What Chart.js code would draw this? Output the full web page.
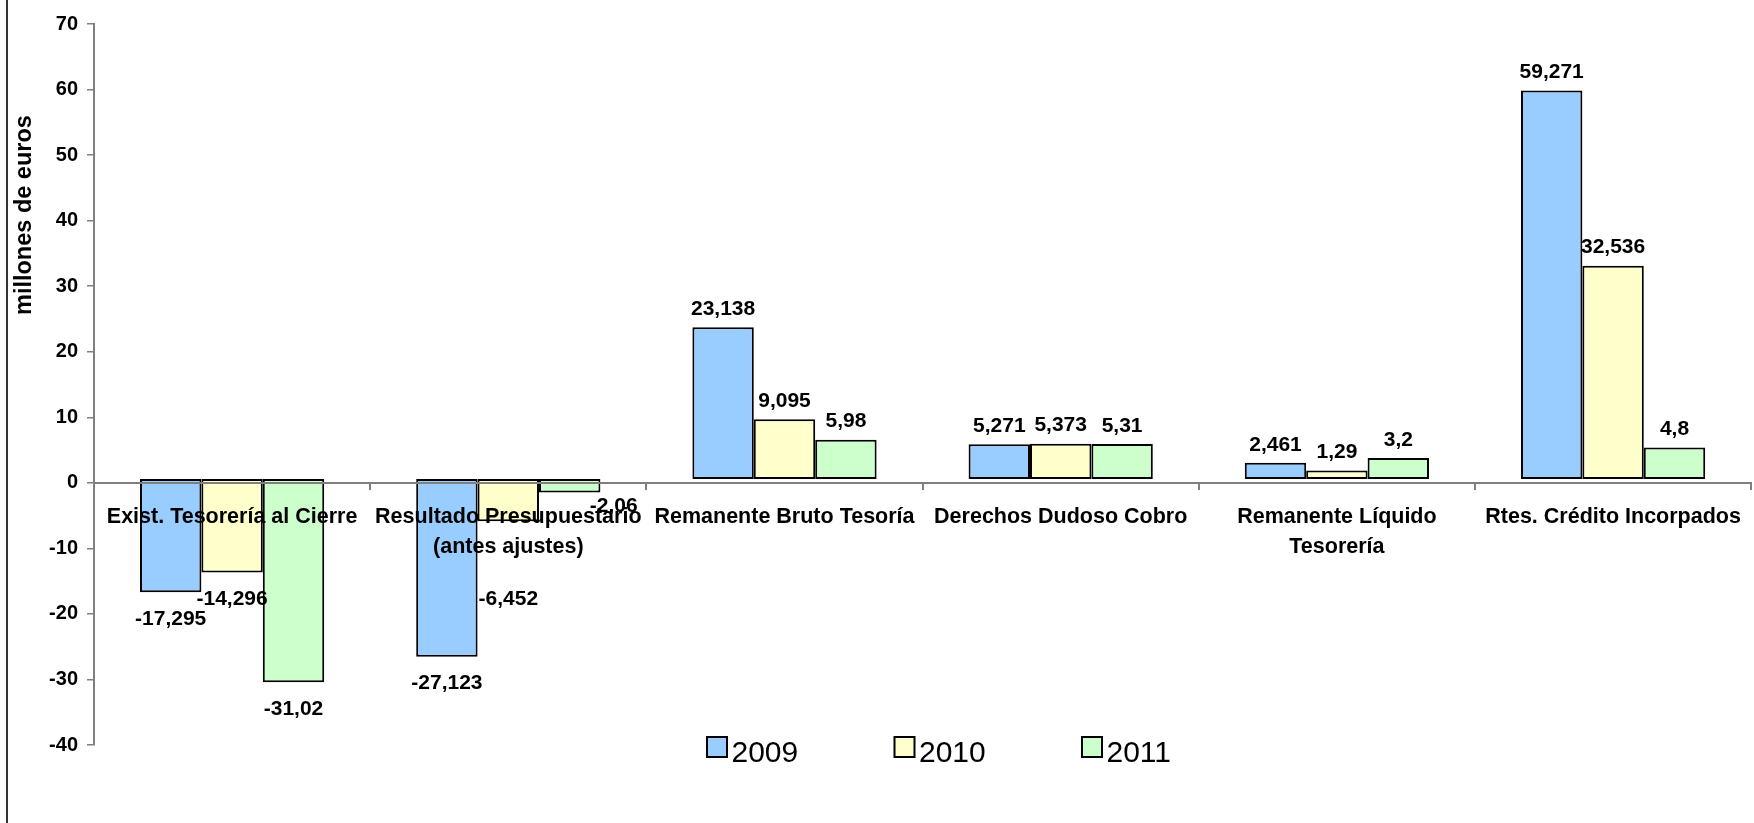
<!DOCTYPE html>
<html><head><meta charset="utf-8">
<script src="https://cdn.jsdelivr.net/npm/chart.js@4/dist/chart.umd.min.js"></script>
<style>html,body{margin:0;padding:0;background:#fff;}</style>
</head><body>
<canvas id="c" width="1754" height="823"></canvas>
<script>
// ---- data ----
const categories = [
  ["Exist. Tesorería al Cierre"],
  ["Resultado Presupuestario", "(antes ajustes)"],
  ["Remanente Bruto Tesoría"],
  ["Derechos Dudoso Cobro"],
  ["Remanente Líquido", "Tesorería"],
  ["Rtes. Crédito Incorpados"]
];
const seriesNames = ["2009", "2010", "2011"];
const values2009 = [-17.295, -27.123, 23.138, 5.271, 2.461, 59.271];
const values2010 = [-14.296, -6.452, 9.095, 5.373, 1.29, 32.536];
const values2011 = [-31.02, -2.06, 5.98, 5.31, 3.2, 4.8];
const yMin = -40, yMax = 70, yStep = 10;
const yTitle = "millones de euros";

// ---- style ----
const FONT = "'Liberation Sans', Arial, sans-serif";
const colors = ["#99CCFF", "#FFFFCC", "#CCFFCC"];
const BAR_BASE = 0.6; // bars in the original start slightly above the zero line
// per-label nudges [series][category] (label placement quirks in the original)
const labelNudge = [
  [null, null, null, null, null, null],
  [null, {dx: 0, dy: 51}, null, null, null, null],
  [null, {dx: 44, dy: -13}, null, null, null, null]
];

const allValues = [values2009, values2010, values2011];
const fmt = v => String(v).replace('.', ',');

const datasets = allValues.map((vals, i) => ({
  label: seriesNames[i],
  data: vals.map(v => [BAR_BASE, BAR_BASE + v]),
  rawValues: vals,
  backgroundColor: colors[i],
  borderColor: "#000",
  borderWidth: 2,
  borderSkipped: false,
  categoryPercentage: 0.667,
  barPercentage: 1.0
}));

const decoPlugin = {
  id: 'deco',
  beforeDraw(chart) {
    const c = chart.ctx;
    c.save();
    c.fillStyle = '#fff';
    c.fillRect(0, 0, chart.width, chart.height);
    c.fillStyle = '#333';
    c.fillRect(6, 0, 2, chart.height);
    c.restore();
  },
  afterDraw(chart) {
    const c = chart.ctx;
    const area = chart.chartArea;
    c.save();
    // y title
    c.font = "bold 23.5px " + FONT;
    c.fillStyle = '#000';
    c.textAlign = 'center';
    c.textBaseline = 'middle';
    c.translate(25, area.top + (area.bottom - area.top) * 0.265);
    c.rotate(-Math.PI / 2);
    c.fillText(yTitle, 0, 0);
    c.restore();

    // data labels
    c.save();
    c.font = "bold 21px " + FONT;
    c.fillStyle = '#000';
    c.textAlign = 'center';
    c.textBaseline = 'middle';
    chart.data.datasets.forEach((ds, di) => {
      const meta = chart.getDatasetMeta(di);
      meta.data.forEach((el, i) => {
        const v = ds.rawValues[i];
        const n = labelNudge[di][i] || {dx: 0, dy: 0};
        const y = v >= 0 ? el.y - 18 : el.y + 27;
        c.fillText(fmt(v), el.x + n.dx, y + n.dy);
      });
    });
    c.restore();

    // legend
    c.save();
    const startX = 707, spacing = 187.5, boxTop = 737, box = 20;
    chart.data.datasets.forEach((ds, i) => {
      const x = startX + i * spacing;
      c.fillStyle = ds.backgroundColor;
      c.fillRect(x, boxTop, box, box);
      c.strokeStyle = '#000';
      c.lineWidth = 2;
      c.strokeRect(x, boxTop, box, box);
      c.fillStyle = '#000';
      c.font = "30px " + FONT;
      c.textAlign = 'left';
      c.textBaseline = 'alphabetic';
      c.fillText(ds.label, x + box + 4.5, 762);
    });
    c.restore();
  }
};

new Chart(document.getElementById('c'), {
  type: 'bar',
  data: { labels: categories, datasets },
  plugins: [decoPlugin],
  options: {
    responsive: false,
    animation: false,
    devicePixelRatio: 1,
    layout: { padding: { top: 24, right: 1, bottom: 78, left: 0 } },
    plugins: { legend: { display: false }, tooltip: { enabled: false } },
    scales: {
      x: {
        position: { y: 0 },
        offset: true,
        grid: { drawOnChartArea: false, drawTicks: true, tickLength: 6, color: '#808080', lineWidth: 2, offset: true, z: 1 },
        border: { display: true, color: '#808080', width: 2, z: 1 },
        ticks: { z: 2, font: { family: FONT, size: 21.5, weight: 'bold', lineHeight: 1.4 }, color: '#000', maxRotation: 0, minRotation: 0, autoSkip: false, padding: 13 }
      },
      y: {
        min: yMin, max: yMax,
        ticks: { stepSize: yStep, font: { family: FONT, size: 20, weight: 'bold' }, color: '#000', padding: 9 },
        grid: { drawOnChartArea: false, drawTicks: true, tickLength: 7, color: '#808080', lineWidth: 1.5 },
        border: { display: true, color: '#808080', width: 2 },
        afterFit(s) { s.width = 94; }
      }
    }
  }
});
</script>
</body></html>
